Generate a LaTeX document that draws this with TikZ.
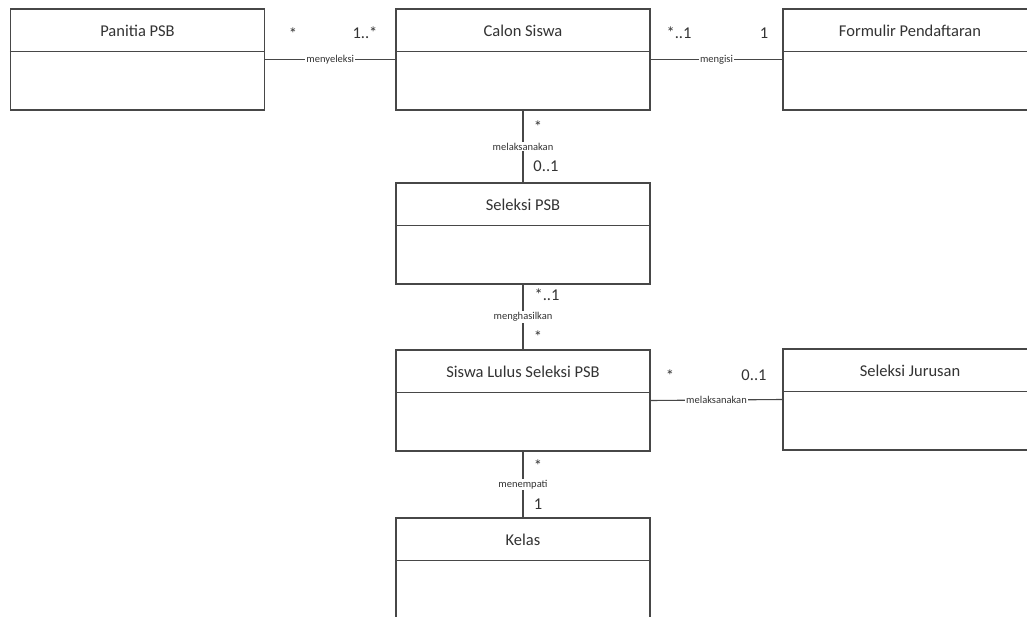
\documentclass[tikz,border=0pt]{standalone}
\usepackage{fontspec}
\setmainfont{Carlito}
\begin{document}
\begin{tikzpicture}[x=1pt,y=-1pt,
  ln/.style={draw=black!72, line width=1.1pt},
  cls/.style={ln, rectangle, inner sep=0pt, minimum width=254pt, minimum height=101pt},
  title/.style={text=black!80, font=\fontsize{16.5}{18}\selectfont, anchor=base},
  mult/.style={text=black!80, font=\fontsize{16.5}{18}\selectfont, anchor=base, inner sep=0pt},
  assoc/.style={text=black!80, font=\fontsize{10.5}{12}\selectfont, fill=white, inner sep=1pt}]
\clip (0,0) rectangle (1027,617);
\fill[white] (0,0) rectangle (1027,617);

% class boxes: outline, header divider, name
\foreach \n/\cx/\cy/\t in {panitia/137.5/59.5/Panitia PSB,
                           calon/523/59.5/Calon Siswa,
                           formulir/910/59.5/Formulir Pendaftaran,
                           seleksi/523/233.5/Seleksi PSB,
                           lulus/523/400.5/Siswa Lulus Seleksi PSB,
                           jurusan/910/399.5/Seleksi Jurusan,
                           kelas/523/568.5/Kelas}{
  \node[cls] (\n) at (\cx,\cy) {};
  \draw[ln] ([yshift=-43pt]\n.north west) -- ([yshift=-43pt]\n.north east);
  \node[title] (\n-name) at ([yshift=-28.5pt]\n.north) {\t};
}

% associations
\draw[ln] (panitia.east) -- node[assoc] (a1) {menyeleksi} (calon.west);
\draw[ln] (calon.east) -- node[assoc] (a2) {mengisi} (formulir.west);
\draw[ln] (calon.south) -- node[assoc] (a3) {melaksanakan} (seleksi.north);
\draw[ln] (seleksi.south) -- node[assoc] (a4) {menghasilkan} (lulus.north);
\draw[ln] (lulus.east) -- node[assoc] (a5) {melaksanakan} (jurusan.west);
\draw[ln] (lulus.south) -- node[assoc] (a6) {menempati} (kelas.north);

% multiplicities
\node[mult] (m1a) at (293,40) {*};
\node[mult] (m1b) at (365,38.5) {1..*};
\node[mult] (m2a) at (679,38.5) {*..1};
\node[mult] (m2b) at (764,38.5) {1};
\node[mult] (m3a) at (538,133) {*};
\node[mult] (m3b) at (546,171.5) {0..1};
\node[mult] (m4a) at (547,300.5) {*..1};
\node[mult] (m4b) at (538,342) {*};
\node[mult] (m5a) at (670,381) {*};
\node[mult] (m5b) at (754,380.5) {0..1};
\node[mult] (m6a) at (538,471) {*};
\node[mult] (m6b) at (538,509.5) {1};
\end{tikzpicture}
\end{document}
